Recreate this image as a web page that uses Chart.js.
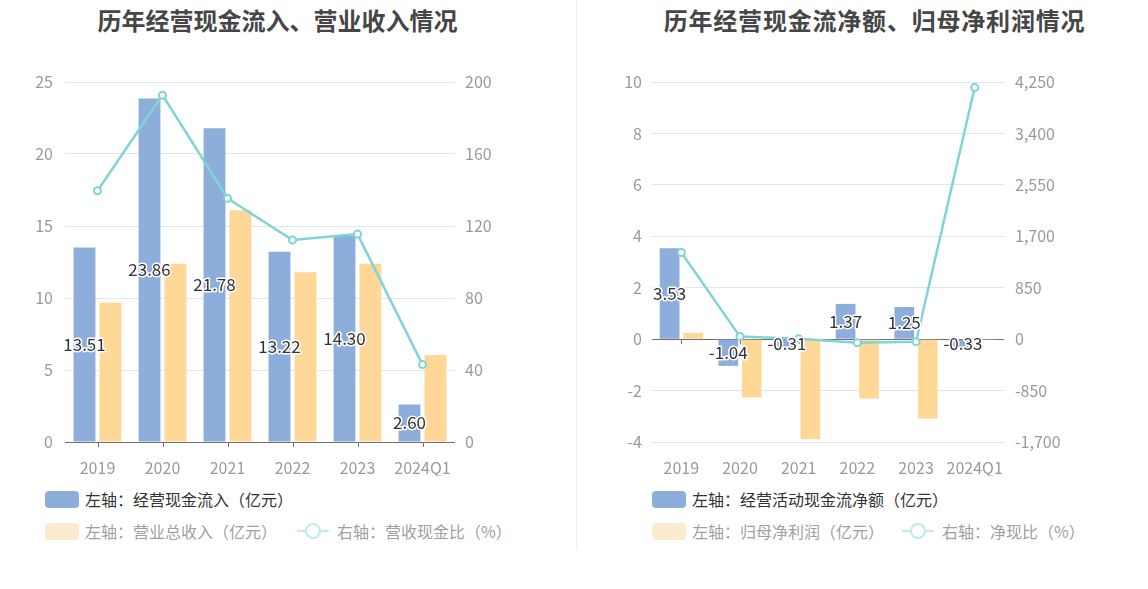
<!DOCTYPE html>
<html>
<head>
<meta charset="utf-8">
<script src="https://cdn.jsdelivr.net/npm/chart.js@4.4.1/dist/chart.umd.min.js"></script>
<style>
  body { margin: 0; background: #fff; font-family: "Noto Sans CJK SC", "Noto Sans", sans-serif; }
  .wrap { position: relative; width: 1148px; height: 589px; overflow: hidden; }
  .title { position: absolute; top: 2px; font-size: 24px; font-weight: bold; color: #464646; text-align: center; }
  .box { position: absolute; }
  .divider { position: absolute; left: 576px; top: 0; width: 1px; height: 550px; background: #eeeeee; }
  .lg { position: absolute; display: flex; align-items: center; font-size: 16px; white-space: nowrap; }
  .sw { width: 34px; height: 17px; border-radius: 4px; margin-right: 6px; }
  .ln { position: relative; width: 32px; height: 14px; margin-right: 8px; }
  .ln::before { content: ""; position: absolute; left: 0; right: 0; top: 6px; height: 2px; background: #bfe9ea; }
  .ln::after { content: ""; position: absolute; left: 8px; top: -1px; width: 12px; height: 12px; border: 2px solid #bfe9ea; border-radius: 50%; background: #fff; }
</style>
</head>
<body>
<div class="wrap">
  <div class="title" style="left:0;width:555px;">历年经营现金流入、营业收入情况</div>
  <div class="title" style="left:577px;width:595px;letter-spacing:0.8px;">历年经营现金流净额、归母净利润情况</div>
  <div class="divider"></div>

  <div class="box" style="left:0;top:60px;width:520px;height:416px;"><canvas id="leftChart"></canvas></div>
  <div class="box" style="left:576px;top:60px;width:514px;height:416px;"><canvas id="rightChart"></canvas></div>

  <div class="lg" style="left:45px;top:487px;color:#333;"><span class="sw" style="background:#8daddb;"></span>左轴：经营现金流入（亿元）</div>
  <div class="lg" style="left:45px;top:519px;color:#a0a0a0;"><span class="sw" style="background:#fdebcf;"></span>左轴：营业总收入（亿元）</div>
  <div class="lg" style="left:297px;top:519px;color:#a0a0a0;"><span class="ln"></span>右轴：营收现金比（%）</div>

  <div class="lg" style="left:652px;top:487px;color:#333;"><span class="sw" style="background:#8daddb;"></span>左轴：经营活动现金流净额（亿元）</div>
  <div class="lg" style="left:652px;top:519px;color:#a0a0a0;"><span class="sw" style="background:#fdebcf;"></span>左轴：归母净利润（亿元）</div>
  <div class="lg" style="left:902px;top:519px;color:#a0a0a0;"><span class="ln"></span>右轴：净现比（%）</div>
</div>

<script>
// data
const years = ['2019', '2020', '2021', '2022', '2023', '2024Q1'];
const cashInflow = [13.51, 23.86, 21.78, 13.22, 14.30, 2.60];
const revenue = [9.68, 12.38, 16.09, 11.78, 12.38, 6.04];
const cashRevenueRatio = [139.6, 192.7, 135.4, 112.2, 115.5, 43.0];

const netCashFlow = [3.53, -1.04, -0.31, 1.37, 1.25, -0.33];
const netProfit = [0.24, -2.27, -3.89, -2.31, -3.09, -0.01];
const netCashRatio = [1432, 42, 8, -60, -42, 4159];

const BLUE = '#8daddb';
const ORANGE = '#ffd797';
const TEAL = '#80d4d6';
const TICK_COLOR = '#9a9a9a';
const FONT = '"Noto Sans CJK SC", "Noto Sans", sans-serif';

// value labels on the first bar series
const barLabels = {
  id: 'barLabels',
  afterDatasetsDraw(chart) {
    const meta = chart.getDatasetMeta(0);
    const ctx = chart.ctx;
    ctx.save();
    ctx.font = '17px ' + FONT;
    ctx.textAlign = 'center';
    ctx.textBaseline = 'middle';
    ctx.lineJoin = 'round';
    meta.data.forEach((bar, i) => {
      const text = chart.data.datasets[0].data[i].toFixed(2);
      const y = (bar.y + bar.base) / 2;
      ctx.lineWidth = 3;
      ctx.strokeStyle = '#fff';
      ctx.strokeText(text, bar.x, y);
      ctx.fillStyle = '#333';
      ctx.fillText(text, bar.x, y);
    });
    ctx.restore();
  }
};

// small tick marks under the zero line at each category
const axisTicks = {
  id: 'axisTicks',
  beforeDatasetsDraw(chart) {
    const x = chart.scales.x;
    const y0 = chart.scales.y.getPixelForValue(0);
    const ctx = chart.ctx;
    ctx.save();
    ctx.strokeStyle = '#6e7079';
    ctx.lineWidth = 1;
    x.ticks.forEach((t, i) => {
      const px = Math.round(x.getPixelForTick(i)) + 0.5;
      ctx.beginPath();
      ctx.moveTo(px, y0);
      ctx.lineTo(px, y0 + 5);
      ctx.stroke();
    });
    ctx.restore();
  }
};

function makeChart(id, bars1, bars2, ratio, left, right, axisW) {
  return new Chart(document.getElementById(id), {
    type: 'bar',
    data: {
      labels: years,
      datasets: [
        { type: 'bar', data: bars1, backgroundColor: BLUE, yAxisID: 'y', order: 1,
          categoryPercentage: 0.8, barPercentage: 0.84 },
        { type: 'bar', data: bars2, backgroundColor: ORANGE, yAxisID: 'y', order: 2,
          categoryPercentage: 0.8, barPercentage: 0.84 },
        { type: 'line', data: ratio, yAxisID: 'y1', order: 0,
          borderColor: TEAL, borderWidth: 2.5, tension: 0,
          pointRadius: 3.5, pointBorderWidth: 2,
          pointBackgroundColor: '#fff', pointBorderColor: TEAL }
      ]
    },
    options: {
      responsive: true,
      maintainAspectRatio: false,
      animation: false,
      layout: { padding: { top: 22 } },
      plugins: { legend: { display: false }, tooltip: { enabled: false } },
      scales: {
        x: {
          grid: { display: false },
          border: { display: false },
          ticks: { color: TICK_COLOR, font: { size: 16, family: FONT }, padding: 8, maxRotation: 0, autoSkip: false },
          afterFit(s) { s.height = 34; }
        },
        y: {
          position: 'left',
          min: left.min, max: left.max,
          ticks: { stepSize: left.step, color: TICK_COLOR, font: { size: 16, family: FONT }, padding: left.pad },
          grid: {
            drawTicks: false,
            color: c => c.tick.value === 0 ? '#6e7079' : '#e0e6f1',
            lineWidth: 1
          },
          border: { display: false },
          afterFit(s) { s.width = axisW[0]; }
        },
        y1: {
          position: 'right',
          min: right.min, max: right.max,
          ticks: { stepSize: right.step, color: TICK_COLOR, font: { size: 16, family: FONT }, padding: right.pad },
          grid: { display: false, drawTicks: false },
          border: { display: false },
          afterFit(s) { s.width = axisW[1]; }
        }
      }
    },
    plugins: [axisTicks, barLabels]
  });
}

makeChart('leftChart', cashInflow, revenue, cashRevenueRatio,
  { min: 0, max: 25, step: 5, pad: 12 },
  { min: 0, max: 200, step: 40, pad: 10 },
  [65, 65]);

makeChart('rightChart', netCashFlow, netProfit, netCashRatio,
  { min: -4, max: 10, step: 2, pad: 10 },
  { min: -1700, max: 4250, step: 850, pad: 11 },
  [76, 86]);
</script>
</body>
</html>
